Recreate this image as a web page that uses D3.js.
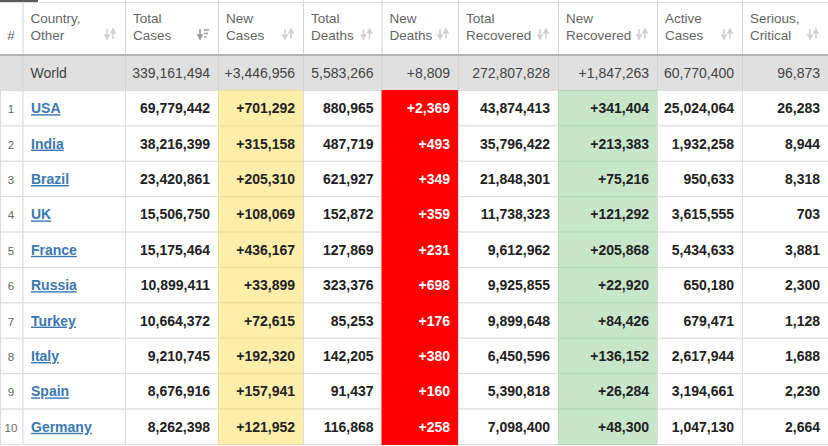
<!DOCTYPE html>
<html>
<head>
<meta charset="utf-8">
<script src="https://cdn.jsdelivr.net/npm/d3@7"></script>
<style>
  html, body { margin: 0; padding: 0; background: #fff; }
  svg { display: block; font-family: "Liberation Sans", Arial, sans-serif; }
</style>
</head>
<body>
<div id="chart"></div>
<script>
// Table data
const headers = [
    ['#'], ['Country,', 'Other'], ['Total', 'Cases'], ['New', 'Cases'], ['Total', 'Deaths'],
    ['New', 'Deaths'], ['Total', 'Recovered'], ['New', 'Recovered'], ['Active', 'Cases'], ['Serious,', 'Critical']
];
const worldRow = ['World', '339,161,494', '+3,446,956', '5,583,266', '+8,809', '272,807,828', '+1,847,263', '60,770,400', '96,873'];

const countries = ['USA', 'India', 'Brazil', 'UK', 'France', 'Russia', 'Turkey', 'Italy', 'Spain', 'Germany'];
const totalCases = ['69,779,442', '38,216,399', '23,420,861', '15,506,750', '15,175,464', '10,899,411', '10,664,372', '9,210,745', '8,676,916', '8,262,398'];
const newCases = ['+701,292', '+315,158', '+205,310', '+108,069', '+436,167', '+33,899', '+72,615', '+192,320', '+157,941', '+121,952'];
const totalDeaths = ['880,965', '487,719', '621,927', '152,872', '127,869', '323,376', '85,253', '142,205', '91,437', '116,868'];
const newDeaths = ['+2,369', '+493', '+349', '+359', '+231', '+698', '+176', '+380', '+160', '+258'];
const totalRecovered = ['43,874,413', '35,796,422', '21,848,301', '11,738,323', '9,612,962', '9,925,855', '9,899,648', '6,450,596', '5,390,818', '7,098,400'];
const newRecovered = ['+341,404', '+213,383', '+75,216', '+121,292', '+205,868', '+22,920', '+84,426', '+136,152', '+26,284', '+48,300'];
const activeCases = ['25,024,064', '1,932,258', '950,633', '3,615,555', '5,434,633', '650,180', '679,471', '2,617,944', '3,194,661', '1,047,130'];
const seriousCritical = ['26,283', '8,944', '8,318', '703', '3,881', '2,300', '1,128', '1,688', '2,230', '2,664'];

const width = 828, height = 446;
// column edges (layout)
const edges = [0, 22.5, 125, 218, 303, 381.5, 458, 558, 657, 742, 828];
const headerH = 55, worldTop = 56, worldBottom = 90.5, bodyBottom = 444.5;

const cellFill = ['#fff', '#fff', '#fff', '#ffeeaa', '#fff', '#ff0000', '#fff', '#c8e6c9', '#fff', '#fff'];
const cellStroke = ['#dcdcdc', '#dcdcdc', '#dcdcdc', '#eedb98', '#dcdcdc', '#ff0000', '#dcdcdc', '#b5d8b7', '#dcdcdc', '#dcdcdc'];

const svg = d3.select('#chart').append('svg')
    .attr('width', width)
    .attr('height', height);

const x = d3.scaleOrdinal().domain(d3.range(10)).range(edges.slice(0, 10));
const w = i => edges[i + 1] - edges[i];
const y = d3.scaleBand().domain(d3.range(countries.length)).range([worldBottom, bodyBottom]);

// Build body rows
const rows = countries.map((c, i) => [String(i + 1), c, totalCases[i], newCases[i], totalDeaths[i],
    newDeaths[i], totalRecovered[i], newRecovered[i], activeCases[i], seriousCritical[i]]);

// world row background
svg.append('rect')
    .attr('x', 0).attr('y', worldTop)
    .attr('width', width).attr('height', worldBottom - worldTop)
    .attr('fill', '#e0e0e0');

// body cells
const cells = [];
rows.forEach((r, ri) => r.forEach((v, ci) => cells.push({ ri, ci, v })));

svg.append('g').selectAll('rect')
    .data(cells)
    .join('rect')
    .attr('x', d => x(d.ci) + 0.5)
    .attr('y', d => y(d.ri))
    .attr('width', d => w(d.ci))
    .attr('height', y.bandwidth())
    .attr('fill', d => cellFill[d.ci])
    .attr('stroke', d => cellStroke[d.ci])
    .attr('stroke-width', 1);

// vertical lines in header + world row
svg.append('g').selectAll('line')
    .data(edges.slice(1, 10))
    .join('line')
    .attr('x1', d => d + 0.5).attr('x2', d => d + 0.5)
    .attr('y1', 0).attr('y2', worldBottom)
    .attr('stroke', '#d4d4d4');

// top line and header bottom
svg.append('line').attr('x1', 0).attr('x2', width).attr('y1', 2.5).attr('y2', 2.5).attr('stroke', '#dedede');
svg.append('rect').attr('x', 0).attr('y', 0).attr('width', 38).attr('height', 2).attr('fill', '#5a5a5a');
svg.append('rect').attr('x', 0).attr('y', headerH - 1).attr('width', width).attr('height', 2).attr('fill', '#b3b3b3');

// header labels
const hdr = svg.append('g').attr('fill', '#666').attr('font-size', 13.5);
headers.forEach((lines, i) => {
    if (i === 0) {
        hdr.append('text').attr('x', 11).attr('y', 40).attr('text-anchor', 'middle').text('#');
        return;
    }
    hdr.append('text')
        .attr('x', x(i) + 8)
        .selectAll('tspan')
        .data(lines)
        .join('tspan')
        .attr('x', x(i) + 8)
        .attr('y', (d, k) => 22.5 + k * 17.5)
        .text(d => d);
});

// sort icons
const icons = svg.append('g');
d3.range(1, 10).forEach(i => {
    const rx = edges[i + 1] - 9;
    const sorted = i === 2;
    const g = icons.append('g').attr('transform', `translate(${rx - 11},29)`);
    // down arrow
    g.append('path')
        .attr('d', 'M2,0 V8 M0,6 L2,10 L4,6 Z')
        .attr('stroke', sorted ? '#9a9a9a' : '#d2d2d2')
        .attr('fill', sorted ? '#9a9a9a' : '#d2d2d2')
        .attr('stroke-width', 1.6);
    if (sorted) {
        g.append('path')
            .attr('d', 'M6,1 H11 M6,4.5 H10 M6,8 H8.5')
            .attr('stroke', '#9a9a9a').attr('stroke-width', 1.6);
    } else {
        g.append('path')
            .attr('d', 'M8,2 V10 M6,4 L8,0 L10,4 Z')
            .attr('stroke', '#d2d2d2').attr('fill', '#d2d2d2')
            .attr('stroke-width', 1.6);
    }
});

// world row text
const worldY = (worldTop + worldBottom) / 2 + 5;
svg.append('g').attr('fill', '#444').attr('font-size', 14)
    .selectAll('text')
    .data(worldRow)
    .join('text')
    .attr('x', (d, k) => k === 0 ? x(1) + 8 : edges[k + 2] - 8)
    .attr('y', worldY)
    .attr('text-anchor', (d, k) => k === 0 ? 'start' : 'end')
    .text(d => d);

// body text
svg.append('g').selectAll('text')
    .data(cells)
    .join('text')
    .attr('x', d => d.ci === 0 ? 11 : d.ci === 1 ? x(1) + 8.5 : edges[d.ci + 1] - 8)
    .attr('y', d => y(d.ri) + y.bandwidth() / 2 + 5)
    .attr('text-anchor', d => d.ci === 0 ? 'middle' : d.ci === 1 ? 'start' : 'end')
    .attr('font-size', d => d.ci === 0 ? 11.5 : 14)
    .attr('font-weight', d => d.ci === 0 ? 'normal' : 'bold')
    .attr('fill', d => d.ci === 0 ? '#666' : d.ci === 1 ? '#3a78b3' : d.ci === 5 ? '#fff' : '#222')
    .attr('text-decoration', d => d.ci === 1 ? 'underline' : null)
    .text(d => d.v);
</script>
</body>
</html>
